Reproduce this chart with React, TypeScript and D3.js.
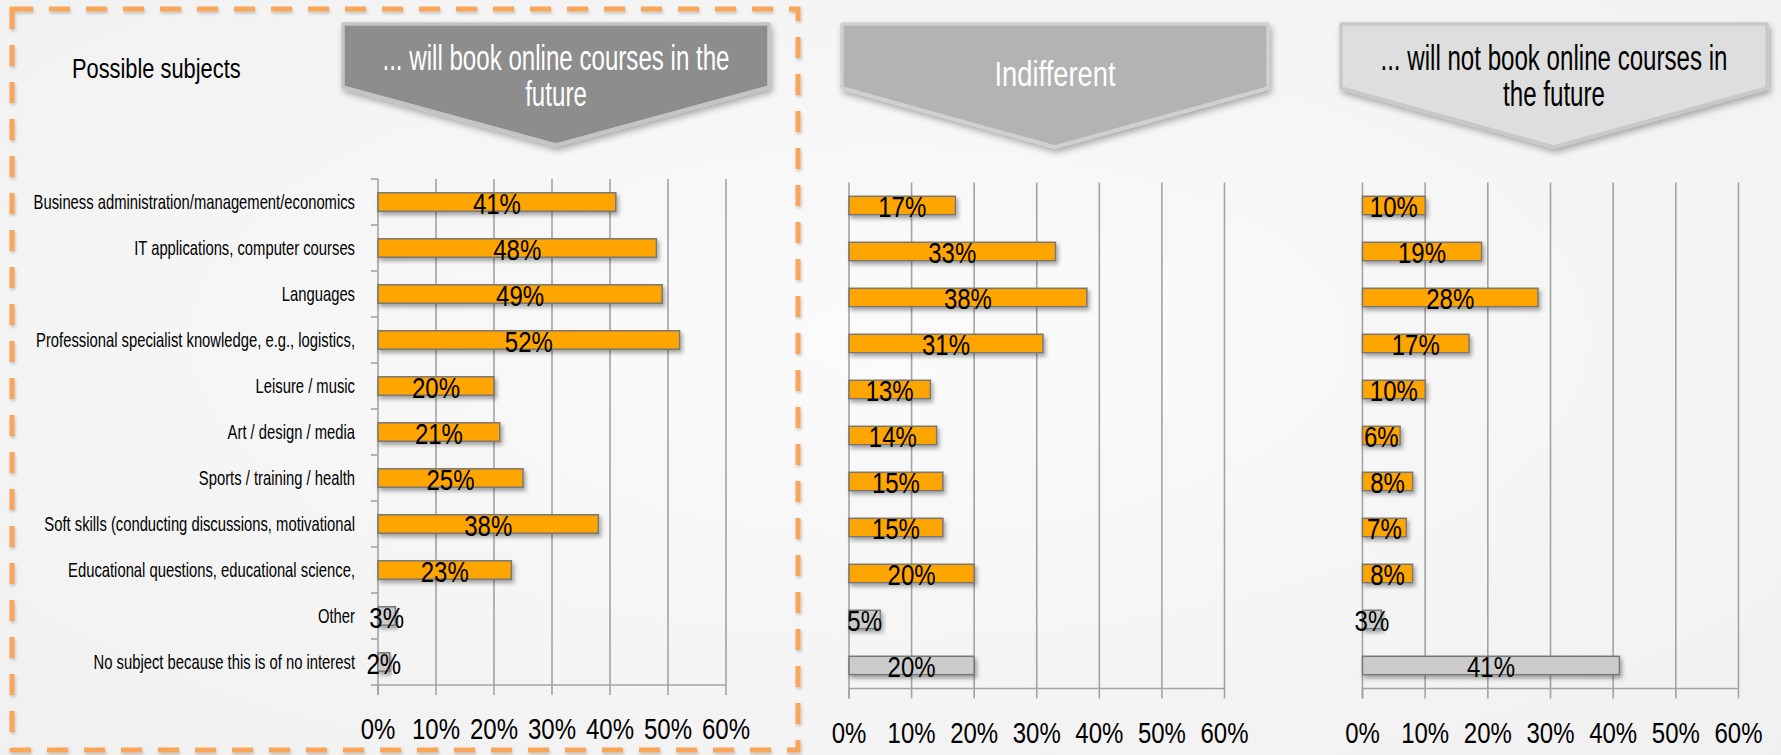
import React from "react";
import * as d3 from "d3";

const categories = [
  "Business administration/management/economics",
  "IT applications, computer courses",
  "Languages",
  "Professional specialist knowledge, e.g., logistics,",
  "Leisure / music",
  "Art / design / media",
  "Sports / training / health",
  "Soft skills (conducting discussions, motivational",
  "Educational questions, educational science,",
  "Other",
  "No subject because this is of no interest",
];
const grayCategories = ["Other", "No subject because this is of no interest"];

const willBook = [41, 48, 49, 52, 20, 21, 25, 38, 23, 3, 2];
const indifferent = [17, 33, 38, 31, 13, 14, 15, 15, 20, 5, 20];
const willNotBook = [10, 19, 28, 17, 10, 6, 8, 7, 8, 3, 41];

const tickValues = [0, 10, 20, 30, 40, 50, 60];
const tickLabels = ["0%", "10%", "20%", "30%", "40%", "50%", "60%"];

const headerLines1 = ["... will book online courses in the", "future"];
const headerLines2 = ["Indifferent"];
const headerLines3 = ["... will not book online courses in", "the future"];
const sideTitle = "Possible subjects";

const W = 1781;
const H = 755;
const FONT = '"Liberation Sans", Arial, sans-serif';

const panels = [
  {
    values: willBook,
    lines: headerLines1,
    x0: 378, x1: 726, top: 179, bottom: 685, catTicks: true,
    head: { l: 343, r: 769, top: 24, sh: 87, tip: 145, fill: "#8d8d8d", stroke: "#c4c4c4", text: "#ffffff" },
  },
  {
    values: indifferent,
    lines: headerLines2,
    x0: 849, x1: 1224.5, top: 182.5, bottom: 688.5, catTicks: false,
    head: { l: 842, r: 1268, top: 24, sh: 88, tip: 147, fill: "#b3b3b3", stroke: "#d0d0d0", text: "#ffffff" },
  },
  {
    values: willNotBook,
    lines: headerLines3,
    x0: 1362.5, x1: 1738.5, top: 182.5, bottom: 688.5, catTicks: false,
    head: { l: 1341, r: 1767, top: 24, sh: 88, tip: 147, fill: "#dedede", stroke: "#c8c8c8", text: "#000000" },
  },
];

function SText(props: any) {
  const { x, y, sx = 1, size, anchor = "middle", fill = "#000", children } = props;
  return (
    <text
      transform={`translate(${x},${y}) scale(${sx},1)`}
      textAnchor={anchor}
      fontFamily={FONT}
      fontSize={size}
      fill={fill}
    >
      {children}
    </text>
  );
}

function Panel({ p }: { p: any }) {
  const x = d3.scaleLinear().domain([0, 60]).range([p.x0, p.x1]);
  const y = d3.scaleBand<string>().domain(categories).range([p.top, p.bottom]).paddingInner(0.6).paddingOuter(0.3);
  const yb = d3.scaleBand<string>().domain(categories).range([p.top, p.bottom]).padding(0);
  const h = p.head;
  const cx = (h.l + h.r) / 2;
  const arrow = `M${h.l},${h.top} L${h.r},${h.top} L${h.r},${h.sh} L${cx},${h.tip} L${h.l},${h.sh} Z`;
  const lineBase = p.lines.length === 1 ? [86] : [70, 106];
  const bounds = categories.map((c) => yb(c) as number).concat([p.bottom]);
  return (
    <g>
      <path d={arrow} fill={h.fill} stroke={h.stroke} strokeWidth={3.5} strokeLinejoin="round" filter="url(#shadow)" />
      {p.lines.map((t: string, i: number) => (
        <SText key={i} x={cx} y={lineBase[i]} size={36} sx={p.lines.length === 1 ? 0.76 : 0.67} fill={h.text}>
          {t}
        </SText>
      ))}
      {tickValues.slice(1).map((t) => (
        <line key={t} x1={x(t)} x2={x(t)} y1={p.top} y2={p.bottom} stroke="#a3a3a3" strokeWidth={1.6} />
      ))}
      <line x1={p.x0} x2={p.x0} y1={p.top} y2={p.bottom + 10} stroke="#a3a3a3" strokeWidth={1.6} />
      {p.catTicks &&
        bounds.map((b: number, i: number) => (
          <line key={i} x1={p.x0 - 7} x2={p.x0} y1={b} y2={b} stroke="#a3a3a3" strokeWidth={1.6} />
        ))}
      <line x1={p.x0} x2={p.x1} y1={p.bottom} y2={p.bottom} stroke="#a3a3a3" strokeWidth={1.6} />
      {tickValues.map((t) => (
        <line key={t} x1={x(t)} x2={x(t)} y1={p.bottom} y2={p.bottom + 10} stroke="#a3a3a3" strokeWidth={1.6} />
      ))}
      {tickValues.map((t, i) => (
        <SText key={t} x={x(t)} y={p.bottom + 54} size={30} sx={0.8}>
          {tickLabels[i]}
        </SText>
      ))}
      {categories.map((c, i) => (
        <rect
          key={c}
          x={x(0)}
          y={y(c)}
          width={x(p.values[i]) - x(0)}
          height={y.bandwidth()}
          fill={grayCategories.includes(c) ? "#cbcbcb" : "#ffa500"}
          stroke="#777777"
          strokeWidth={1.5}
          filter="url(#barShadow)"
        />
      ))}
      {categories.map((c, i) => (
        <SText
          key={c}
          x={(x(0) + x(p.values[i])) / 2}
          y={(y(c) as number) + y.bandwidth() / 2 + 11.5}
          size={30}
          sx={0.8}
        >
          {`${p.values[i]}%`}
        </SText>
      ))}
    </g>
  );
}

export default function App() {
  const p1 = panels[0];
  const yc = d3.scaleBand<string>().domain(categories).range([p1.top, p1.bottom]).padding(0);
  return (
    <div style={{ position: "absolute", left: 0, top: 0, width: W, height: H }}>
      <svg width={W} height={H} viewBox={`0 0 ${W} ${H}`} style={{ display: "block" }}>
        <defs>
          <filter id="shadow" x="-10%" y="-10%" width="130%" height="140%">
            <feDropShadow dx="2" dy="4" stdDeviation="3" floodColor="#000" floodOpacity="0.3" />
          </filter>
          <filter id="barShadow" x="-10%" y="-30%" width="130%" height="190%">
            <feDropShadow dx="2" dy="3" stdDeviation="2" floodColor="#000" floodOpacity="0.35" />
          </filter>
          <filter id="dashShadow" x="-5%" y="-5%" width="110%" height="110%">
            <feDropShadow dx="1" dy="2" stdDeviation="1.5" floodColor="#000" floodOpacity="0.2" />
          </filter>
          <radialGradient id="bg" cx="50%" cy="45%" r="75%">
            <stop offset="0%" stopColor="#fbfbfb" />
            <stop offset="100%" stopColor="#f0f0f0" />
          </radialGradient>
        </defs>
        <rect x={0} y={0} width={W} height={H} fill="url(#bg)" />
        <rect
          x={12}
          y={9}
          width={786}
          height={741}
          fill="none"
          stroke="#f9a65a"
          strokeWidth={5}
          strokeDasharray="21 16"
          filter="url(#dashShadow)"
        />
        <SText x={72} y={78} size={28} sx={0.78} anchor="start">
          {sideTitle}
        </SText>
        {categories.map((c) => (
          <SText key={c} x={355} y={(yc(c) as number) + yc.bandwidth() / 2 + 7} size={20} sx={0.74} anchor="end">
            {c}
          </SText>
        ))}
        {panels.map((p, i) => (
          <Panel key={i} p={p} />
        ))}
      </svg>
    </div>
  );
}
